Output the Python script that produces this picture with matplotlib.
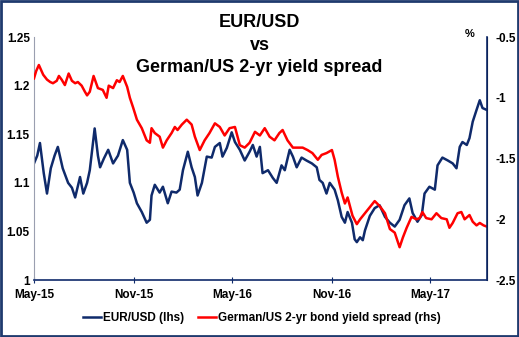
import matplotlib
matplotlib.use("Agg")
import matplotlib.pyplot as plt
import matplotlib.dates as mdates
import pandas as pd

plt.rcParams['font.family'] = ['Liberation Sans', 'DejaVu Sans']

# EUR/USD (left axis)
eur_dates = ['2015-05-01', '2015-05-07', '2015-05-12', '2015-05-19', '2015-05-25', '2015-06-01',
             '2015-06-08', '2015-06-14', '2015-06-23', '2015-07-03', '2015-07-10', '2015-07-16',
             '2015-07-25', '2015-07-31', '2015-08-07', '2015-08-12', '2015-08-21', '2015-08-27',
             '2015-08-31', '2015-09-07', '2015-09-15', '2015-09-24', '2015-10-03', '2015-10-12',
             '2015-10-20', '2015-10-25', '2015-11-01', '2015-11-07', '2015-11-16', '2015-11-25',
             '2015-12-01', '2015-12-04', '2015-12-10', '2015-12-19', '2015-12-25', '2016-01-03',
             '2016-01-10', '2016-01-19', '2016-01-25', '2016-01-31', '2016-02-09', '2016-02-16',
             '2016-02-22', '2016-02-27', '2016-03-06', '2016-03-15', '2016-03-24', '2016-03-30',
             '2016-04-08', '2016-04-13', '2016-04-21', '2016-04-30', '2016-05-06', '2016-05-15',
             '2016-05-24', '2016-06-02', '2016-06-08', '2016-06-15', '2016-06-21', '2016-06-26',
             '2016-07-06', '2016-07-15', '2016-07-22', '2016-07-31', '2016-08-06', '2016-08-15',
             '2016-08-21', '2016-08-28', '2016-09-06', '2016-09-15', '2016-09-25', '2016-10-04',
             '2016-10-09', '2016-10-15', '2016-10-22', '2016-10-28', '2016-11-06', '2016-11-12',
             '2016-11-19', '2016-11-25', '2016-11-30', '2016-12-08', '2016-12-13', '2016-12-17',
             '2016-12-23', '2016-12-28', '2017-01-01', '2017-01-10', '2017-01-19', '2017-01-28',
             '2017-02-07', '2017-02-16', '2017-02-25', '2017-03-06', '2017-03-15', '2017-03-24',
             '2017-03-30', '2017-04-08', '2017-04-16', '2017-04-21', '2017-04-30', '2017-05-10',
             '2017-05-15', '2017-05-24', '2017-06-03', '2017-06-12', '2017-06-19', '2017-06-25',
             '2017-06-30', '2017-07-08', '2017-07-13', '2017-07-19', '2017-07-26', '2017-08-01',
             '2017-08-06', '2017-08-14']
eur_usd = [1.120, 1.128, 1.141, 1.110, 1.089, 1.115,
           1.128, 1.137, 1.115, 1.100, 1.095, 1.085,
           1.106, 1.089, 1.100, 1.113, 1.156, 1.128,
           1.116, 1.125, 1.134, 1.120, 1.128, 1.144,
           1.134, 1.100, 1.090, 1.079, 1.070, 1.059,
           1.062, 1.087, 1.098, 1.090, 1.096, 1.079,
           1.091, 1.090, 1.093, 1.113, 1.132, 1.116,
           1.106, 1.087, 1.100, 1.127, 1.126, 1.137,
           1.141, 1.127, 1.136, 1.152, 1.142, 1.134,
           1.123, 1.132, 1.139, 1.127, 1.137, 1.110,
           1.113, 1.105, 1.100, 1.118, 1.113, 1.134,
           1.127, 1.116, 1.126, 1.123, 1.120, 1.116,
           1.103, 1.100, 1.089, 1.100, 1.093, 1.082,
           1.065, 1.059, 1.070, 1.059, 1.042, 1.039,
           1.044, 1.041, 1.051, 1.066, 1.074, 1.077,
           1.065, 1.059, 1.055, 1.062, 1.077, 1.084,
           1.069, 1.060, 1.067, 1.089, 1.096, 1.093,
           1.118, 1.126, 1.123, 1.120, 1.115, 1.137,
           1.142, 1.139, 1.146, 1.163, 1.175, 1.185,
           1.177, 1.175]

# German/US 2-yr bond yield spread, % (right axis)
spr_dates = ['2015-05-01', '2015-05-05', '2015-05-10', '2015-05-18', '2015-05-25', '2015-05-31',
             '2015-06-05', '2015-06-12', '2015-06-16', '2015-06-21', '2015-06-27', '2015-07-04',
             '2015-07-10', '2015-07-16', '2015-07-21', '2015-07-28', '2015-08-03', '2015-08-07',
             '2015-08-12', '2015-08-19', '2015-08-27', '2015-09-05', '2015-09-12', '2015-09-16',
             '2015-09-24', '2015-10-01', '2015-10-06', '2015-10-12', '2015-10-20', '2015-10-25',
             '2015-10-31', '2015-11-07', '2015-11-16', '2015-11-25', '2015-12-01', '2015-12-04',
             '2015-12-10', '2015-12-19', '2015-12-25', '2016-01-01', '2016-01-10', '2016-01-16',
             '2016-01-21', '2016-01-29', '2016-02-07', '2016-02-16', '2016-02-22', '2016-03-02',
             '2016-03-11', '2016-03-20', '2016-03-30', '2016-04-08', '2016-04-17', '2016-04-26',
             '2016-05-06', '2016-05-15', '2016-05-24', '2016-06-02', '2016-06-12', '2016-06-21',
             '2016-06-30', '2016-07-09', '2016-07-18', '2016-07-27', '2016-08-02', '2016-08-11',
             '2016-08-21', '2016-08-30', '2016-09-08', '2016-09-17', '2016-09-26', '2016-10-06',
             '2016-10-13', '2016-10-22', '2016-11-01', '2016-11-06', '2016-11-12', '2016-11-19',
             '2016-11-25', '2016-11-30', '2016-12-09', '2016-12-17', '2016-12-23', '2017-01-01',
             '2017-01-10', '2017-01-19', '2017-01-28', '2017-02-07', '2017-02-16', '2017-02-25',
             '2017-03-06', '2017-03-12', '2017-03-19', '2017-03-28', '2017-04-06', '2017-04-12',
             '2017-04-17', '2017-04-24', '2017-05-04', '2017-05-13', '2017-05-22', '2017-06-01',
             '2017-06-06', '2017-06-12', '2017-06-21', '2017-06-28', '2017-07-04', '2017-07-13',
             '2017-07-19', '2017-07-26', '2017-08-01', '2017-08-08', '2017-08-14']
spread = [-0.84, -0.78, -0.73, -0.81, -0.85, -0.87,
          -0.88, -0.86, -0.82, -0.85, -0.895, -0.80,
          -0.86, -0.88, -0.87, -0.90, -0.95, -0.98,
          -0.95, -0.82, -0.92, -0.935, -1.00, -0.90,
          -0.92, -0.855, -0.87, -0.82, -0.91, -1.00,
          -1.08, -1.18, -1.25, -1.35, -1.37, -1.25,
          -1.29, -1.32, -1.41, -1.35, -1.29, -1.24,
          -1.265, -1.22, -1.18, -1.22, -1.32, -1.43,
          -1.35, -1.29, -1.21, -1.24, -1.31, -1.25,
          -1.24, -1.39, -1.41, -1.37, -1.28, -1.31,
          -1.25, -1.32, -1.35, -1.29, -1.265, -1.35,
          -1.41, -1.41, -1.41, -1.43, -1.455, -1.51,
          -1.47, -1.455, -1.43, -1.51, -1.65, -1.78,
          -1.87, -1.82, -1.97, -2.04, -2.00, -1.95,
          -1.90, -1.85, -1.89, -1.95, -2.08, -2.11,
          -2.23, -2.15, -2.07, -1.98, -2.00, -1.99,
          -1.94, -1.99, -2.00, -1.95, -1.99, -2.00,
          -2.07, -2.03, -1.95, -1.94, -2.00, -1.965,
          -2.02, -2.05, -2.03, -2.05, -2.06]

tick_dates = ['2015-05-01', '2015-11-01', '2016-05-01', '2016-11-01', '2017-05-01']
left_ticks = [1, 1.05, 1.1, 1.15, 1.2, 1.25]
right_ticks = [-2.5, -2, -1.5, -1, -0.5]

navy = '#0F2A6B'
red = '#FF0000'

fig = plt.figure(figsize=(5.19, 3.37), dpi=100)
ax = fig.add_axes([0.0655, 0.169, 0.8725, 0.721])
ax2 = ax.twinx()

l1, = ax.plot(pd.to_datetime(eur_dates), eur_usd, color=navy, lw=1.8, label='EUR/USD (lhs)')
l2, = ax2.plot(pd.to_datetime(spr_dates), spread, color=red, lw=1.8,
               label='German/US 2-yr bond yield spread (rhs)')

ax.set_xlim(pd.Timestamp('2015-05-01'), pd.Timestamp('2017-08-14'))
ax.set_ylim(1, 1.25)
ax2.set_ylim(-2.5, -0.5)
ax.set_yticks(left_ticks)
ax.set_yticklabels(['1', '1.05', '1.1', '1.15', '1.2', '1.25'])
ax2.set_yticks(right_ticks)
ax2.set_yticklabels(['-2.5', '-2', '-1.5', '-1', '-0.5'])
ax.set_xticks(pd.to_datetime(tick_dates))
ax.xaxis.set_major_formatter(mdates.DateFormatter('%b-%y'))

for a in (ax, ax2):
    a.spines['top'].set_visible(False)
ax.spines['left'].set_color('#9A9FB0')
ax.spines['bottom'].set_color(navy)
ax2.spines['right'].set_color(navy)
ax2.spines['left'].set_visible(False)
ax2.spines['bottom'].set_visible(False)
ax.spines['bottom'].set_linewidth(1.2)
ax2.spines['right'].set_linewidth(1.2)

ax.tick_params(axis='y', length=0, labelsize=8.5, pad=3)
ax2.tick_params(axis='y', length=0, labelsize=8.5, pad=6)
ax.tick_params(axis='x', direction='inout', length=5, color=navy, labelsize=8.5, pad=4)
for lab in ax.get_xticklabels() + ax.get_yticklabels() + ax2.get_yticklabels():
    lab.set_fontweight('bold')

fig.text(0.5, 0.932, 'EUR/USD', ha='center', va='center', fontsize=13, fontweight='bold')
fig.text(0.5, 0.866, 'vs', ha='center', va='center', fontsize=13, fontweight='bold')
fig.text(0.5, 0.800, 'German/US 2-yr yield spread', ha='center', va='center',
         fontsize=13, fontweight='bold')
fig.text(0.905, 0.90, '%', ha='center', va='center', fontsize=8, fontweight='bold')

leg = fig.legend([l1, l2], [l1.get_label(), l2.get_label()], loc='center',
                 bbox_to_anchor=(0.505, 0.056), ncol=2, frameon=False, fontsize=8.5,
                 handlelength=1.5, handletextpad=0.2, columnspacing=1.2)
for t in leg.get_texts():
    t.set_fontweight('bold')

fig.patches.append(plt.Rectangle((0.002, 0.003), 0.996, 0.994, transform=fig.transFigure,
                                 fill=False, edgecolor='#1F3A6E', lw=2))

fig.savefig('out.png', dpi=100)
